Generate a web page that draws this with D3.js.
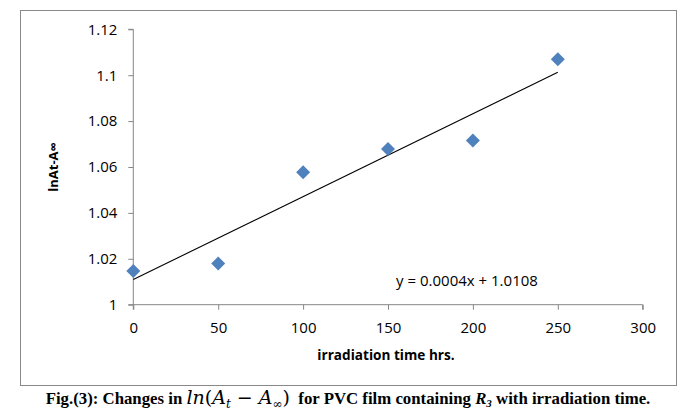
<!DOCTYPE html>
<html>
<head>
<meta charset="utf-8">
<script src="https://cdn.jsdelivr.net/npm/d3@7"></script>
<style>
  body { margin: 0; background: #fff; }
  svg { display: block; }
</style>
</head>
<body>
<div id="chart"></div>
<script>
// irradiation time (hrs) and ln(At - Ainf)
const times = [0, 50, 100, 150, 200, 250];
const lnValues = [1.0147, 1.018, 1.0577, 1.0678, 1.0716, 1.1069];
const xTicks = [0, 50, 100, 150, 200, 250, 300];
const yTicks = [1, 1.02, 1.04, 1.06, 1.08, 1.1, 1.12];
const equationText = "y = 0.0004x + 1.0108";

(function scatter(){

let width = 690,
    height = 417,
    margin = ({ top: 29.3, right: 47.3, bottom: 112.3, left: 133.3 });

const data = times.map((t, i) => ({ t: t, v: lnValues[i] }));

const svg = d3.select("#chart")
  .append("svg")
  .attr("width", width)
  .attr("height", height);

// chart frame
svg.append("rect")
  .attr("x", 20.5).attr("y", 10.5)
  .attr("width", 656).attr("height", 375)
  .attr("fill", "none")
  .attr("stroke", "#898989")
  .attr("stroke-width", 1);

let x = d3.scaleLinear()
  .domain([0, 300])
  .range([margin.left, width - margin.right]);

let y = d3.scaleLinear()
  .domain([1, 1.12])
  .range([height - margin.bottom, margin.top]);

const tickFont = "'Open Sans', 'Noto Sans', sans-serif";

svg.append("g")
  .attr("transform", `translate(0,${height - margin.bottom})`)
  .attr("class", "x-axis")
  .call(d3.axisBottom(x).tickValues(xTicks).tickFormat(d => d).tickSize(5).tickPadding(13))
  .call(g => g.select(".domain").attr("d", `M${margin.left},5V0H${width - margin.right}V5`))
  .call(g => g.selectAll("text").attr("font-size", 15).attr("font-family", tickFont).attr("fill", "#000"));

svg.append("g")
  .attr("transform", `translate(${margin.left},0)`)
  .attr("class", "y-axis")
  .call(d3.axisLeft(y).tickValues(yTicks).tickFormat(d => d3.format("")(+d.toFixed(2))).tickSize(5).tickPadding(11))
  .call(g => g.select(".domain").attr("d", `M-5,${margin.top}H0V${height - margin.bottom}H-5`))
  .call(g => g.selectAll("text").attr("font-size", 15).attr("font-family", tickFont).attr("fill", "#000"));

svg.selectAll(".x-axis path, .x-axis line, .y-axis path, .y-axis line")
  .attr("stroke", "#868686");

// least squares trendline
const mx = d3.mean(times), my = d3.mean(lnValues);
const slope = d3.sum(data, d => (d.t - mx) * (d.v - my)) / d3.sum(data, d => (d.t - mx) ** 2);
const icpt = my - slope * mx;
const ext = d3.extent(times);

svg.append("line")
  .attr("x1", x(ext[0])).attr("y1", y(icpt + slope * ext[0]))
  .attr("x2", x(ext[1])).attr("y2", y(icpt + slope * ext[1]))
  .attr("stroke", "#000")
  .attr("stroke-width", 1.1);

svg.append("g")
  .attr("fill", "#4F81BD")
  .selectAll("path")
  .data(data)
  .join("path")
  .attr("transform", d => `translate(${x(d.t)},${y(d.v)}) rotate(45)`)
  .attr("d", d3.symbol(d3.symbolSquare, 98));

svg.append("text")
  .attr("x", 467)
  .attr("y", 286)
  .attr("text-anchor", "middle")
  .attr("font-family", tickFont)
  .attr("font-size", 15)
  .text(equationText);

// axis titles
svg.append("text")
  .attr("x", 386)
  .attr("y", 360)
  .attr("text-anchor", "middle")
  .attr("font-family", tickFont)
  .attr("font-weight", "bold")
  .attr("font-size", 13.6)
  .text("irradiation time hrs.");

svg.append("text")
  .attr("transform", `translate(58,${(margin.top + height - margin.bottom) / 2}) rotate(-90)`)
  .attr("text-anchor", "middle")
  .attr("font-family", tickFont)
  .attr("font-weight", "bold")
  .attr("font-size", 13)
  .text("lnAt-A∞");

// caption
const cap = svg.append("text")
  .attr("x", 348)
  .attr("y", 404)
  .attr("text-anchor", "middle")
  .attr("font-family", "'Liberation Serif', 'Times New Roman', serif")
  .attr("font-weight", "bold")
  .attr("font-size", 16.8)
  .attr("xml:space", "preserve");

cap.append("tspan").text("Fig.(3): Changes in ");
const m = cap.append("tspan").attr("font-family", "'DejaVu Serif', serif").attr("font-weight", "normal").attr("font-style", "italic").attr("font-size", 19);
m.append("tspan").text("ln");
m.append("tspan").attr("font-style", "normal").text("(");
m.append("tspan").text("A");
m.append("tspan").attr("font-size", 12).attr("dy", 4).text("t");
m.append("tspan").attr("font-style", "normal").attr("dy", -4).text(" − ");
m.append("tspan").text("A");
m.append("tspan").attr("font-size", 12).attr("dy", 4).attr("font-style", "normal").text("∞");
m.append("tspan").attr("font-style", "normal").attr("dy", -4).text(")");
cap.append("tspan").text("  for PVC film containing ");
cap.append("tspan").attr("font-style", "italic").text("R");
cap.append("tspan").attr("font-style", "italic").attr("font-size", 11).attr("dy", 3).text("3");
cap.append("tspan").attr("dy", -3).text(" with irradiation time.");

})();
</script>
</body>
</html>
